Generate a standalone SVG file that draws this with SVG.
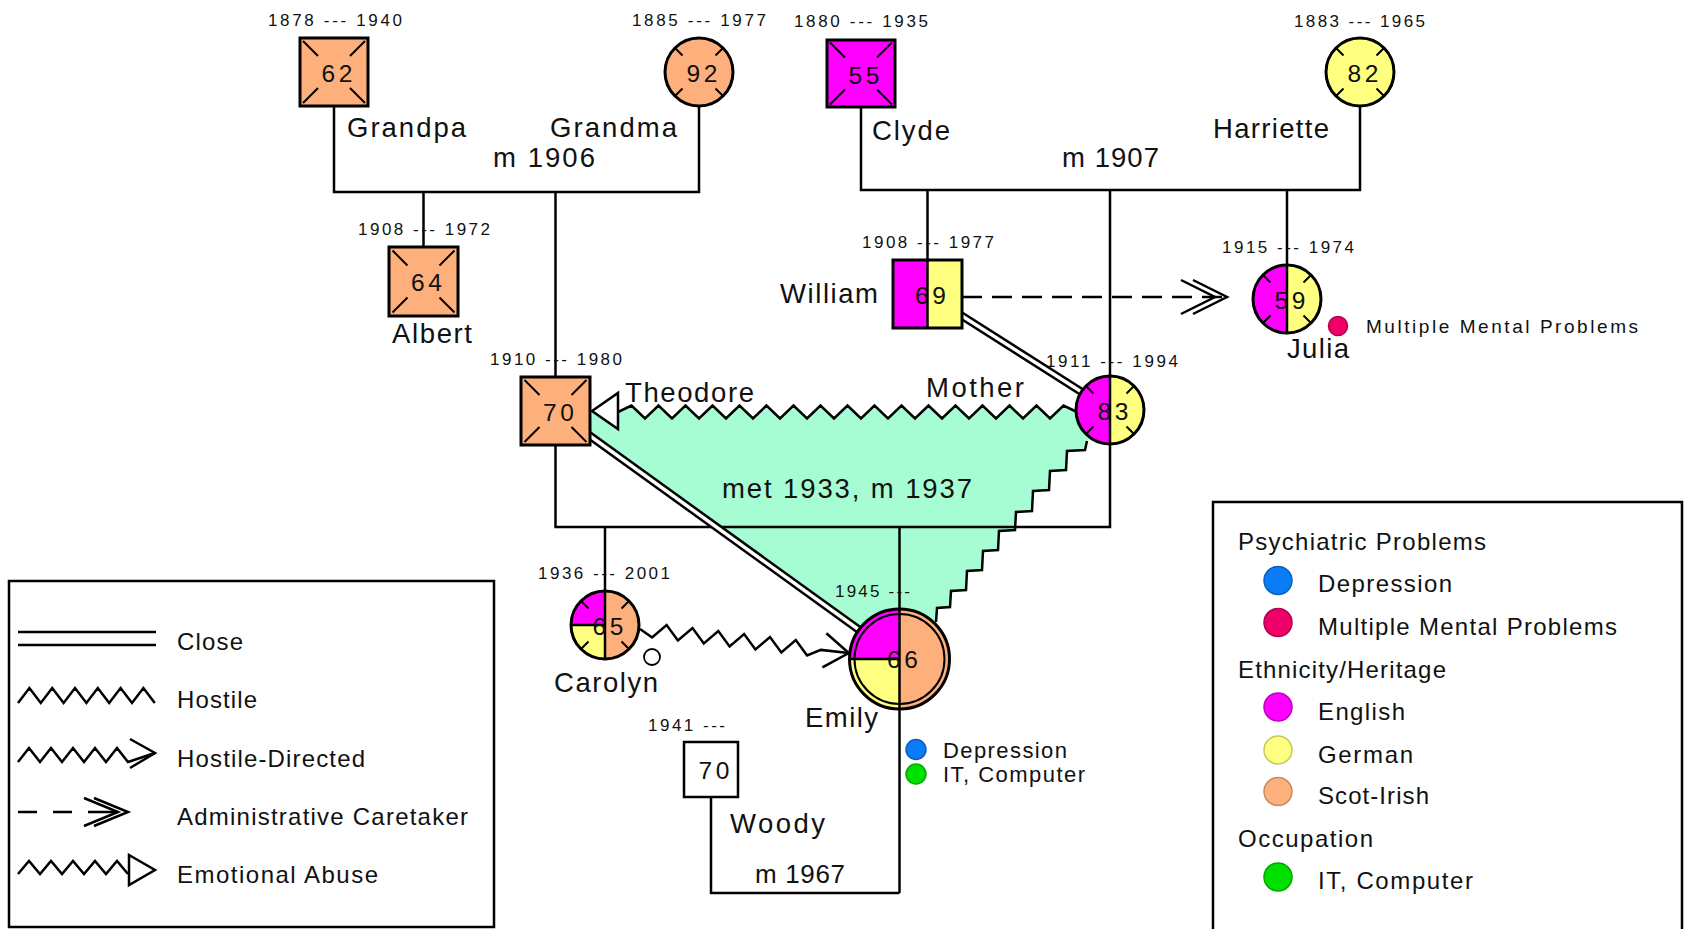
<svg xmlns="http://www.w3.org/2000/svg" width="1692" height="929" viewBox="0 0 1692 929">
<style>
text{font-family:"Liberation Sans",Arial,Helvetica,sans-serif;fill:#111}
.lbl{font-size:27.5px}
.date{font-size:17px}
.age{font-size:24.5px}
.leg{font-size:24px}
.sm{font-size:22px}
.xs{font-size:19px}
.ln{fill:none;stroke:#000;stroke-width:2.5}
.nd{stroke:#000;stroke-width:3}
.tk{fill:none;stroke:#000;stroke-width:2}
.or{fill:#FDB07C}
.mg{fill:#FF00FF}
.ye{fill:#FFFF80}
.zz{fill:none;stroke:#000;stroke-width:2.5;stroke-linejoin:miter}
.cl1{fill:none;stroke:#000;stroke-width:8.5}
.cl2{fill:none;stroke:#fff;stroke-width:3.5}
.dep{fill:#0A7CF5;stroke:#0A5FC0;stroke-width:1.5}
.mmp{fill:#EE0068;stroke:#B0004C;stroke-width:1.5}
.eng{fill:#FF00FF;stroke:#C000C0;stroke-width:1.5}
.ger{fill:#FFFF80;stroke:#C8C860;stroke-width:1.5}
.sci{fill:#FDB07C;stroke:#C88A60;stroke-width:1.5}
.itc{fill:#00E000;stroke:#00A800;stroke-width:1.5}
</style>
<defs>
<path id="tkS" d="M-31,-31L-16,-16M31,-31L16,-16M-31,31L-16,16M31,31L16,16"/>
<path id="tkC" d="M-24,-24L-16.5,-16.5M24,-24L16.5,-16.5M-24,24L-16.5,16.5M24,24L16.5,16.5"/>
</defs>
<rect width="1692" height="929" fill="#fff"/>

<!-- green triangle region -->
<path id="region" fill="#A7FDD3" d="M592,412 L618,412 l13.5,-6.5 l13.5,13 l13.5,-13 l13.5,13 l13.5,-13 l13.5,13 l13.5,-13 l13.5,13 l13.5,-13 l13.5,13 l13.5,-13 l13.5,13 l13.5,-13 l13.5,13 l13.5,-13 l13.5,13 l13.5,-13 l13.5,13 l13.5,-13 l13.5,13 l13.5,-13 l13.5,13 l13.5,-13 l13.5,13 l13.5,-13 l13.5,13 l13.5,-13 l13.5,13 l13.5,-13 l13.5,13 l13.5,-13 l13.5,13 l13.5,-13 l13.5,6.5 L1110,412 L1087,441 L1085,450 L1067,451 L1066,470 L1050,471 L1049,490 L1033,491 L1032,511 L1016,512 L1015,530 L999,531 L998,550 L983,551 L982,570 L967,571 L966,590 L951,591 L950,607 L937,608 L936,622 L899,659 L857,629 L590,436 Z"/>

<g id="connectors">
  <!-- family lines -->
  <path class="ln" d="M334,106 V192 H699 V106"/>
  <path class="ln" d="M423.5,192 V247"/>
  <path class="ln" d="M555.5,192 V377"/>
  <path class="ln" d="M861,107 V190 H1360 V106"/>
  <path class="ln" d="M927.5,190 V260"/>
  <path class="ln" d="M1110,190 V376"/>
  <path class="ln" d="M1287,190 V265"/>
  <path class="ln" d="M555.5,445 V527 H1110 V444"/>
  <path class="ln" d="M605,527 V591"/>
  <path class="ln" d="M899.5,527 V893"/>
  <path class="ln" d="M711,797 V893 H899.5"/>

  <!-- close: William - Mother -->
  <path class="cl1" d="M927.5,294 L1110,410"/>
  <path class="cl2" d="M927.5,294 L1110,410"/>
  <!-- close: Theodore - Emily -->
  <path class="cl1" d="M555.5,411 L899.5,659"/>
  <path class="cl2" d="M555.5,411 L899.5,659"/>

  <!-- emotional abuse: Mother -> Theodore -->
  <path class="zz" d="M618,412 l13.5,-6.5 l13.5,13 l13.5,-13 l13.5,13 l13.5,-13 l13.5,13 l13.5,-13 l13.5,13 l13.5,-13 l13.5,13 l13.5,-13 l13.5,13 l13.5,-13 l13.5,13 l13.5,-13 l13.5,13 l13.5,-13 l13.5,13 l13.5,-13 l13.5,13 l13.5,-13 l13.5,13 l13.5,-13 l13.5,13 l13.5,-13 l13.5,13 l13.5,-13 l13.5,13 l13.5,-13 l13.5,13 l13.5,-13 l13.5,13 l13.5,-13 l13.5,6.5"/>
  <path d="M592,411 L618,393 L618,429 Z" fill="#fff" stroke="#000" stroke-width="2.5" stroke-linejoin="miter"/>

  <!-- hostile: Mother - Emily -->
  <path class="zz" d="M1087,441 L1085,450 L1067,451 L1066,470 L1050,471 L1049,490 L1033,491 L1032,511 L1016,512 L1015,530 L999,531 L998,550 L983,551 L982,570 L967,571 L966,590 L951,591 L950,607 L937,608 L936,622"/>

  <!-- hostile-directed: Carolyn -> Emily -->
  <polyline class="zz" points="640,629 652.1,637.5 666.6,625 677.9,640.4 692.5,628 703.8,643.4 718.3,631 729.6,646.4 744.1,634 755.4,649.4 770,637 781.3,652.4 795.8,640 807.1,655.4 820.8,649.9 848.8,653.1"/>
  <path class="zz" d="M826.4,633.2 L848.8,653.1 L822.4,667.4"/>

  <!-- administrative caretaker: William -> Julia -->
  <path class="zz" d="M962,297 H1225" stroke-dasharray="20 10"/>
  <path class="zz" d="M1181,280 L1215,297 L1181,314 M1193,280 L1227,297 L1193,314"/>
</g>

<g id="grandpa">
  <rect class="nd or" x="300" y="38" width="68" height="68"/>
  <use href="#tkS" class="tk" x="334" y="72"/>
  <text class="age" x="321.5" y="82" textLength="31" lengthAdjust="spacing">62</text>
  <text class="date" x="268" y="26" textLength="134" lengthAdjust="spacing">1878 --- 1940</text>
  <text class="lbl" x="347" y="137" textLength="119" lengthAdjust="spacing">Grandpa</text>
</g>
<g id="grandma">
  <circle class="nd or" cx="699" cy="72" r="34"/>
  <use href="#tkC" class="tk" x="699" y="72"/>
  <text class="age" x="686.5" y="82" textLength="31" lengthAdjust="spacing">92</text>
  <text class="date" x="632" y="26" textLength="134" lengthAdjust="spacing">1885 --- 1977</text>
  <text class="lbl" x="550" y="137" textLength="127" lengthAdjust="spacing">Grandma</text>
  <text class="lbl" x="493" y="167" textLength="102" lengthAdjust="spacing">m 1906</text>
</g>
<g id="clyde">
  <rect class="nd mg" x="827" y="40" width="68" height="67"/>
  <use href="#tkS" class="tk" x="861" y="73.5"/>
  <text class="age" x="848.5" y="84" textLength="31" lengthAdjust="spacing">55</text>
  <text class="date" x="794" y="27" textLength="134" lengthAdjust="spacing">1880 --- 1935</text>
  <text class="lbl" x="872" y="140" textLength="78" lengthAdjust="spacing">Clyde</text>
</g>
<g id="harriette">
  <circle class="nd ye" cx="1360" cy="72" r="34"/>
  <use href="#tkC" class="tk" x="1360" y="72"/>
  <text class="age" x="1347.5" y="82" textLength="31" lengthAdjust="spacing">82</text>
  <text class="date" x="1294" y="27" textLength="131" lengthAdjust="spacing">1883 --- 1965</text>
  <text class="lbl" x="1213" y="138" textLength="116" lengthAdjust="spacing">Harriette</text>
  <text class="lbl" x="1062" y="167" textLength="97" lengthAdjust="spacing">m 1907</text>
</g>
<g id="albert">
  <rect class="nd or" x="389" y="247" width="69" height="69"/>
  <use href="#tkS" class="tk" x="423.5" y="281.5"/>
  <text class="age" x="411" y="291" textLength="31" lengthAdjust="spacing">64</text>
  <text class="date" x="358" y="235" textLength="132" lengthAdjust="spacing">1908 --- 1972</text>
  <text class="lbl" x="392" y="343" textLength="80" lengthAdjust="spacing">Albert</text>
</g>
<g id="theodore">
  <rect class="nd or" x="521" y="377" width="69" height="68"/>
  <use href="#tkS" class="tk" x="555.5" y="411"/>
  <text class="age" x="543" y="421" textLength="31" lengthAdjust="spacing">70</text>
  <text class="date" x="490" y="365" textLength="132" lengthAdjust="spacing">1910 --- 1980</text>
  <text class="lbl" x="625" y="402" textLength="129" lengthAdjust="spacing">Theodore</text>
  <text class="lbl" x="722" y="498" textLength="250" lengthAdjust="spacing">met 1933, m 1937</text>
</g>
<g id="william">
  <rect class="mg" x="893" y="260" width="34.5" height="68"/>
  <rect class="ye" x="927.5" y="260" width="34.5" height="68"/>
  <path class="ln" d="M927.5,260 V328"/>
  <rect class="nd" fill="none" x="893" y="260" width="69" height="68"/>
  <text class="age" x="915" y="304" textLength="31" lengthAdjust="spacing">69</text>
  <text class="date" x="862" y="248" textLength="132" lengthAdjust="spacing">1908 --- 1977</text>
  <text class="lbl" x="780" y="303" textLength="98" lengthAdjust="spacing">William</text>
</g>
<g id="mother">
  <path class="mg" d="M1110,376 A34,34 0 0 0 1110,444 Z"/>
  <path class="ye" d="M1110,376 A34,34 0 0 1 1110,444 Z"/>
  <path class="ln" d="M1110,376 V444"/>
  <circle class="nd" fill="none" cx="1110" cy="410" r="34"/>
  <use href="#tkC" class="tk" x="1110" y="410"/>
  <text class="age" x="1097.5" y="420" textLength="31" lengthAdjust="spacing">83</text>
  <text class="date" x="1046" y="367" textLength="132" lengthAdjust="spacing">1911 --- 1994</text>
  <text class="lbl" x="926" y="397" textLength="98" lengthAdjust="spacing">Mother</text>
</g>
<g id="julia">
  <path class="mg" d="M1287,265 A34,34 0 0 0 1287,333 Z"/>
  <path class="ye" d="M1287,265 A34,34 0 0 1 1287,333 Z"/>
  <path class="ln" d="M1287,265 V333"/>
  <circle class="nd" fill="none" cx="1287" cy="299" r="34"/>
  <use href="#tkC" class="tk" x="1287" y="299"/>
  <text class="age" x="1274.5" y="309" textLength="31" lengthAdjust="spacing">59</text>
  <text class="date" x="1222" y="253" textLength="132" lengthAdjust="spacing">1915 --- 1974</text>
  <text class="lbl" x="1287" y="358" textLength="62" lengthAdjust="spacing">Julia</text>
  <circle class="mmp" cx="1338" cy="326" r="9.5"/>
  <text class="xs" x="1366" y="333" textLength="272" lengthAdjust="spacing">Multiple Mental Problems</text>
</g>
<g id="carolyn">
  <path class="mg" d="M605,625 L605,591 A34,34 0 0 0 571,625 Z"/>
  <path class="ye" d="M605,625 L571,625 A34,34 0 0 0 605,659 Z"/>
  <path class="or" d="M605,591 A34,34 0 0 1 605,659 Z"/>
  <path class="ln" d="M605,591 V659 M571,625 H605"/>
  <circle class="nd" fill="none" cx="605" cy="625" r="34"/>
  <use href="#tkC" class="tk" x="605" y="625"/>
  <text class="age" x="592.5" y="635" textLength="31" lengthAdjust="spacing">65</text>
  <text class="date" x="538" y="579" textLength="132" lengthAdjust="spacing">1936 --- 2001</text>
  <text class="lbl" x="554" y="692" textLength="104" lengthAdjust="spacing">Carolyn</text>
  <circle cx="652" cy="657" r="8" fill="none" stroke="#000" stroke-width="1.8"/>
</g>
<g id="emily">
  <path class="mg" d="M899.5,659 L899.5,609 A50,50 0 0 0 849.5,659 Z"/>
  <path class="ye" d="M899.5,659 L849.5,659 A50,50 0 0 0 899.5,709 Z"/>
  <path class="or" d="M899.5,609 A50,50 0 0 1 899.5,709 Z"/>
  <circle fill="none" stroke="#000" stroke-width="2" cx="899.5" cy="659" r="45"/>
  <path class="ln" d="M899.5,609 V709 M849.5,659 H899.5"/>
  <circle class="nd" fill="none" cx="899.5" cy="659" r="50"/>
  <text class="age" x="887" y="668" textLength="31" lengthAdjust="spacing">66</text>
  <text class="date" x="835" y="597" textLength="75" lengthAdjust="spacing">1945 ---</text>
  <text class="lbl" x="805" y="727" textLength="73" lengthAdjust="spacing">Emily</text>
  <circle class="dep" cx="916" cy="749.5" r="10"/>
  <circle class="itc" cx="916" cy="774" r="10"/>
  <text class="sm" x="943" y="758" textLength="124" lengthAdjust="spacing">Depression</text>
  <text class="sm" x="943" y="782" textLength="142" lengthAdjust="spacing">IT, Computer</text>
</g>
<g id="woody">
  <rect x="684" y="742" width="54" height="55" fill="#fff" stroke="#000" stroke-width="2.5"/>
  <text class="age" x="698.5" y="779" textLength="31" lengthAdjust="spacing">70</text>
  <text class="date" x="648" y="731" textLength="77" lengthAdjust="spacing">1941 ---</text>
  <text class="lbl" x="730" y="833" textLength="95" lengthAdjust="spacing">Woody</text>
  <text class="lbl" x="755" y="883" style="font-size:26px" textLength="90" lengthAdjust="spacing">m 1967</text>
</g>

<g id="legend-relations">
  <rect x="9" y="581" width="485" height="346" fill="none" stroke="#000" stroke-width="2.5"/>
  <path class="ln" d="M18,632 H156 M18,645 H156"/>
  <text class="leg" x="177" y="650" textLength="66" lengthAdjust="spacing">Close</text>
  <path class="zz" d="M18,703 l11.4,-15 l11.4,15 l11.4,-15 l11.4,15 l11.4,-15 l11.4,15 l11.4,-15 l11.4,15 l11.4,-15 l11.4,15 l11.4,-15 l11.4,15"/>
  <text class="leg" x="177" y="708" textLength="80" lengthAdjust="spacing">Hostile</text>
  <path class="zz" d="M18,762 l11,-14 l11,14 l11,-14 l11,14 l11,-14 l11,14 l11,-14 l11,14 l11,-14 l11,14 L155,753"/>
  <path class="zz" d="M130,739 L155,753 L130,768"/>
  <text class="leg" x="177" y="767" textLength="188" lengthAdjust="spacing">Hostile-Directed</text>
  <path class="zz" d="M18,812 H37 M53,812 H72 M88,812 H118"/>
  <path class="zz" d="M84,798 L118,812 L84,826 M94,798 L128,812 L94,826"/>
  <text class="leg" x="177" y="825" textLength="291" lengthAdjust="spacing">Administrative Caretaker</text>
  <path class="zz" d="M18,874 l11,-13 l11,13 l11,-13 l11,13 l11,-13 l11,13 l11,-13 l11,13 l11,-13 l11,13"/>
  <path d="M129,855 L155,870 L129,885 Z" fill="#fff" stroke="#000" stroke-width="2.5"/>
  <text class="leg" x="177" y="883" textLength="201" lengthAdjust="spacing">Emotional Abuse</text>
</g>

<g id="legend-attributes">
  <rect x="1213" y="502" width="469" height="440" fill="none" stroke="#000" stroke-width="2.5"/>
  <text class="leg" x="1238" y="550" textLength="248" lengthAdjust="spacing">Psychiatric Problems</text>
  <circle class="dep" cx="1278" cy="580.5" r="14"/>
  <text class="leg" x="1318" y="592" textLength="134" lengthAdjust="spacing">Depression</text>
  <circle class="mmp" cx="1278" cy="622.5" r="14"/>
  <text class="leg" x="1318" y="635" textLength="299" lengthAdjust="spacing">Multiple Mental Problems</text>
  <text class="leg" x="1238" y="678" textLength="208" lengthAdjust="spacing">Ethnicity/Heritage</text>
  <circle class="eng" cx="1278" cy="707" r="14"/>
  <text class="leg" x="1318" y="720" textLength="87" lengthAdjust="spacing">English</text>
  <circle class="ger" cx="1278" cy="750" r="14"/>
  <text class="leg" x="1318" y="763" textLength="95" lengthAdjust="spacing">German</text>
  <circle class="sci" cx="1278" cy="791.5" r="14"/>
  <text class="leg" x="1318" y="804" textLength="111" lengthAdjust="spacing">Scot-Irish</text>
  <text class="leg" x="1238" y="847" textLength="135" lengthAdjust="spacing">Occupation</text>
  <circle class="itc" cx="1278" cy="877" r="14"/>
  <text class="leg" x="1318" y="889" textLength="155" lengthAdjust="spacing">IT, Computer</text>
</g>
</svg>
